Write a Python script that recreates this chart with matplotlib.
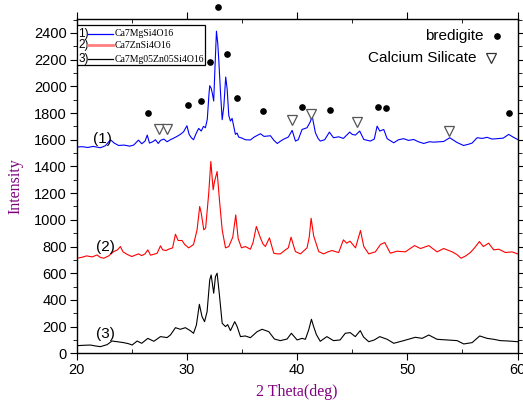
import numpy as np
import matplotlib
matplotlib.use("Agg")
import matplotlib.pyplot as plt
from matplotlib.lines import Line2D
from matplotlib.patches import Rectangle
from matplotlib.ticker import MultipleLocator

plt.rcParams['font.family'] = ['Liberation Sans', 'DejaVu Sans']

# ---- XRD patterns (2theta, intensity) ----
x1 = [20.0, 20.5, 21.0, 21.5, 22.15, 22.6, 23.06, 23.4, 23.8, 24.3, 24.8, 25.17, 25.6, 25.9,
      26.2, 26.4, 26.6, 26.9, 27.14, 27.4, 27.6, 27.9, 28.2, 28.5, 28.8, 29.1, 29.4, 29.7,
      30.0, 30.2, 30.4, 30.6, 30.85, 31.07, 31.3, 31.5, 31.68, 31.85, 32.0, 32.07, 32.2, 32.3,
      32.43, 32.55, 32.68, 32.8, 32.89, 33.05, 33.2, 33.35, 33.52, 33.65, 33.8, 33.95, 34.1,
      34.25, 34.4, 34.55, 34.7, 35.0, 35.3, 35.76, 36.1, 36.67, 37.0, 37.58, 37.9, 38.2, 38.5,
      38.8, 39.2, 39.55, 39.85, 40.1, 40.45, 40.9, 41.2, 41.36, 41.5, 41.66, 41.9, 42.1, 42.5,
      42.93, 43.3, 43.77, 44.2, 44.77, 45.0, 45.29, 45.68, 46.05, 46.65, 47.0, 47.26, 47.5,
      47.86, 48.17, 48.77, 49.2, 49.67, 50.1, 50.58, 51.0, 51.49, 52.0, 52.4, 53.3, 53.85,
      54.5, 55.1, 55.5, 55.88, 56.33, 56.8, 57.24, 57.7, 58.15, 58.7, 59.2, 59.6, 60.0]
y1 = [1545, 1548, 1542, 1550, 1540, 1555, 1600, 1575, 1557, 1560, 1552, 1560, 1597, 1570,
      1590, 1635, 1575, 1585, 1600, 1572, 1595, 1605, 1585, 1600, 1612, 1625, 1640, 1660,
      1705, 1640, 1615, 1600, 1650, 1685, 1665, 1700, 1690, 1755, 1940, 2005, 1985, 1950,
      1890, 2150, 2413, 2320, 2200, 1950, 1750, 1850, 2070, 1980, 1780, 1740, 1760,
      1700, 1640, 1650, 1620, 1612, 1600, 1598, 1620, 1645, 1625, 1630, 1595, 1572, 1590,
      1605, 1620, 1670, 1590, 1600, 1677, 1690, 1735, 1780, 1720, 1652, 1610, 1590, 1600,
      1657, 1615, 1622, 1610, 1657, 1640, 1635, 1665, 1602, 1590, 1605, 1702, 1665,
      1677, 1608, 1577, 1600, 1608, 1595, 1602, 1585, 1572, 1585, 1582, 1587, 1615,
      1580, 1557, 1565, 1575, 1615, 1610, 1618, 1605, 1608, 1612, 1640, 1620, 1602]

x2 = [20.0, 20.5, 20.9, 21.4, 21.85, 22.1, 22.45, 22.9, 23.36, 23.7, 23.96, 24.2, 24.6, 25.0,
      25.3, 25.6, 25.9, 26.2, 26.45, 26.7, 27.0, 27.3, 27.6, 27.8, 28.1, 28.35, 28.7, 28.96,
      29.2, 29.56, 29.8, 30.16, 30.6, 30.92, 31.16, 31.3, 31.53, 31.7, 31.98, 32.17, 32.38,
      32.5, 32.74, 32.95, 33.2, 33.5, 33.8, 34.16, 34.43, 34.65, 34.95, 35.3, 35.76, 36.0,
      36.3, 36.67, 36.9, 37.12, 37.49, 37.88, 38.2, 38.48, 38.94, 39.2, 39.45, 39.7, 39.85,
      40.3, 40.9, 41.1, 41.27, 41.5, 41.96, 42.4, 42.8, 43.16, 43.77, 44.2, 44.5, 44.8, 45.3,
      45.75, 46.05, 46.5, 47.1, 47.56, 47.95, 48.46, 49.07, 49.82, 50.65, 51.2, 51.95, 52.7,
      53.3, 54.07, 54.5, 54.88, 55.3, 55.72, 56.1, 56.54, 56.9, 57.38, 57.84, 58.3, 58.9,
      59.5, 60.0]
y2 = [712, 720, 730, 722, 737, 720, 712, 730, 762, 775, 800, 760, 740, 725,
      735, 745, 732, 745, 775, 735, 742, 750, 805, 775, 770, 780, 790, 892,
      845, 845, 815, 790, 815, 925, 1100, 1050, 925, 940, 1200, 1437, 1225,
      1285, 1362, 1150, 925, 790, 800, 870, 1037, 860, 790, 800, 780, 830,
      950, 865, 820, 800, 865, 750, 745, 745, 775, 790, 870, 800, 762,
      745, 790, 870, 1012, 880, 762, 745, 760, 770, 755, 850, 825, 840, 790,
      920, 800, 745, 760, 815, 830, 750, 765, 760, 807, 785, 807, 760,
      785, 760, 740, 712, 730, 755, 790, 837, 800, 825, 775, 780, 755,
      760, 745]

x3 = [20.0, 20.6, 21.24, 21.7, 22.15, 22.76, 23.2, 23.67, 24.26, 24.7, 25.03, 25.48, 25.9,
      26.45, 27.0, 27.6, 28.2, 28.5, 28.96, 29.4, 29.86, 30.3, 30.6, 30.86, 31.13, 31.37,
      31.6, 31.83, 32.07, 32.2, 32.43, 32.59, 32.74, 32.95, 33.2, 33.5, 33.7, 33.95, 34.34,
      34.56, 34.86, 35.3, 35.76, 36.37, 36.82, 37.43, 37.94, 38.48, 39.09, 39.48, 40.0,
      40.45, 40.75, 41.05, 41.3, 41.5, 41.75, 42.1, 42.7, 43.3, 43.9, 44.37, 44.82, 45.28,
      45.73, 46.03, 46.5, 47.0, 47.5, 48.17, 48.77, 49.67, 50.73, 51.34, 51.95, 52.7, 53.61,
      54.52, 55.12, 55.88, 56.57, 57.24, 57.84, 58.45, 59.2, 60.0]
y3 = [57, 60, 62, 55, 50, 65, 92, 87, 80, 72, 62, 92, 75,
      112, 90, 125, 118, 137, 192, 180, 192, 170, 150, 212, 367, 275,
      237, 312, 550, 587, 450, 575, 600, 437, 225, 200, 215, 170, 237,
      200, 125, 130, 117, 162, 180, 162, 107, 95, 107, 150, 100,
      112, 105, 175, 255, 200, 140, 90, 125, 95, 100, 150, 155, 125,
      170, 122, 87, 100, 125, 105, 75, 95, 120, 112, 137, 105, 100,
      95, 70, 80, 130, 112, 105, 95, 92, 87]

# phase markers on pattern (1)
bred_x = [26.45, 30.1, 31.29, 32.13, 32.86, 33.65, 34.56, 36.9, 40.45, 42.96, 47.35, 48.1, 59.2]
bred_y = [1803, 1863, 1893, 2183, 2593, 2245, 1913, 1818, 1848, 1822, 1848, 1840, 1803]
cs_x = [27.44, 28.2, 39.55, 41.27, 45.45, 53.82]
cs_y = [1677, 1677, 1745, 1795, 1732, 1665]

names = ['Ca7MgSi4O16', 'Ca7ZnSi4O16', 'Ca7Mg05Zn05Si4O16']
curve_tags = ['(1)', '(2)', '(3)']
tag_pos = [(22.35, 1605), (22.65, 800), (22.6, 142)]

fig = plt.figure(figsize=(5.23, 4.03), dpi=100)
ax = fig.add_axes([0.1467, 0.1233, 0.8428, 0.8307])

ax.plot(x1, y1, color='#0000ff', lw=0.8)
ax.plot(x2, y2, color='#ff0000', lw=0.8)
ax.plot(x3, y3, color='black', lw=0.8)

ax.plot(bred_x, bred_y, 'o', color='black', ms=3.8, clip_on=False)
ax.plot(cs_x, cs_y, 'v', mfc='white', mec='#555555', mew=0.9, ms=7.5, clip_on=False)

for t, (tx, ty) in zip(curve_tags, tag_pos):
    ax.text(tx, ty, t, fontsize=11, ha='center', va='center')

ax.set_xlim(20, 60)
ax.set_ylim(0, 2508)
ax.xaxis.set_major_locator(MultipleLocator(10))
ax.xaxis.set_minor_locator(MultipleLocator(5))
ax.yaxis.set_major_locator(MultipleLocator(200))
ax.yaxis.set_minor_locator(MultipleLocator(100))
ax.set_yticks(np.arange(0, 2401, 200))
ax.tick_params(axis='both', which='major', labelsize=10.5, pad=2)
ax.tick_params(axis='x', which='major', direction='out', length=5, top=True)
ax.tick_params(axis='x', which='minor', direction='in', length=3, top=True)
ax.tick_params(axis='y', which='major', direction='out', length=5, right=True)
ax.tick_params(axis='y', which='minor', direction='out', length=3, right=True)
for s in ax.spines.values():
    s.set_linewidth(1.0)

serif = ['Liberation Serif', 'DejaVu Serif']
ax.set_xlabel('2 Theta(deg)', family=serif, fontsize=11.5, color='#800080', labelpad=5)
ax.set_ylabel('Intensity', family=serif, fontsize=11.5, color='#800080', labelpad=8)

# legend box drawn by hand (number before the line)
ax.add_patch(Rectangle((0.0, 0.861), 0.291, 0.12, transform=ax.transAxes,
                       facecolor='white', edgecolor='black', lw=0.9, zorder=5))
leg_cols = ['#0000ff', '#ff7f7f', 'black']
leg_lw = [0.9, 2.0, 0.9]
leg_y = [0.954, 0.920, 0.878]
for i in range(3):
    ax.text(0.004, leg_y[i], f'{i + 1})', transform=ax.transAxes, fontsize=8.5,
            va='center', ha='left', zorder=6)
    ax.add_line(Line2D([0.026, 0.083], [leg_y[i], leg_y[i]], transform=ax.transAxes,
                       color=leg_cols[i], lw=leg_lw[i], zorder=6))
    ax.text(0.087, leg_y[i], names[i], transform=ax.transAxes, family=serif,
            fontsize=7, va='center', ha='left', zorder=6)

# phase key top right
ax.text(0.922, 0.948, 'bredigite', transform=ax.transAxes, fontsize=11,
        ha='right', va='center')
ax.plot([0.954], [0.948], 'o', color='black', ms=3.8, transform=ax.transAxes)
ax.text(0.906, 0.882, 'Calcium Silicate', transform=ax.transAxes, fontsize=11,
        ha='right', va='center')
ax.plot([0.94], [0.882], 'v', mfc='white', mec='#333333', mew=0.9, ms=7.5,
        transform=ax.transAxes)

fig.savefig('out.png', dpi=100)
